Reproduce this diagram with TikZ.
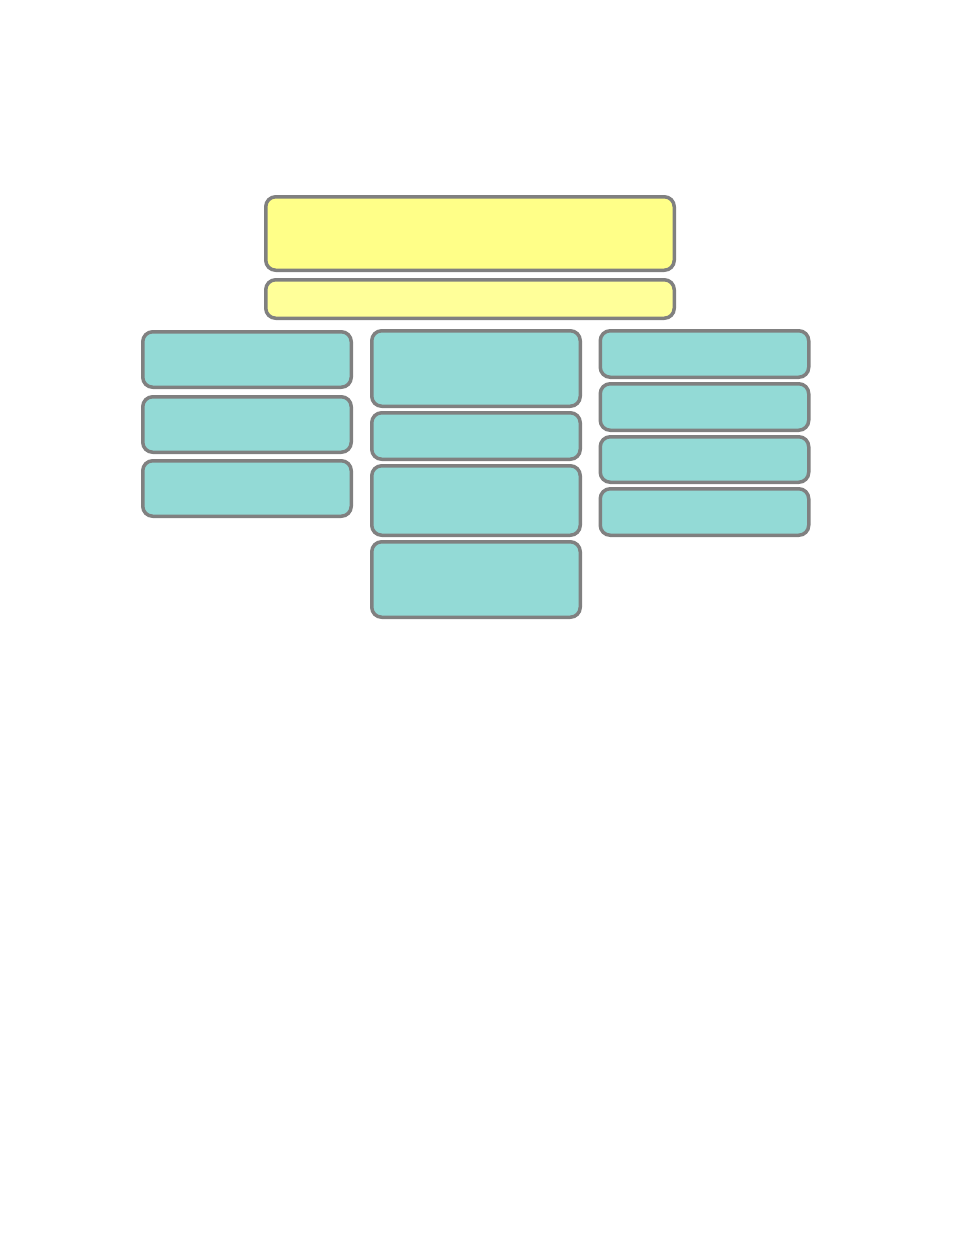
\documentclass[tikz,border=0pt]{standalone}
\usepackage{tikz}
\usepackage{xcolor}
\usetikzlibrary{positioning}
\definecolor{framegray}{HTML}{808080}
\definecolor{titleyellow}{HTML}{FFFF88}
\definecolor{subyellow}{HTML}{FFFF99}
\definecolor{cellteal}{HTML}{93DAD6}

\begin{document}
\begin{tikzpicture}[x=1pt,y=-1pt,
  panel/.style={draw=framegray, line width=3.5pt, rounded corners=10pt, inner sep=0pt},
  head/.style={panel, fill=titleyellow, minimum width=408.5pt},
  cell/.style={panel, fill=cellteal, minimum width=208.5pt}]
  \useasboundingbox (0,0) rectangle (954,1235);

  % header
  \node[head, minimum height=73.5pt] (title) at (470,233.5) {};
  \node[head, fill=subyellow, minimum height=38.5pt] (subtitle) at (470,299) {};

  % left column
  \node[cell, minimum height=55.5pt] (left1) at (247,359.5) {};
  \node[cell, minimum height=55.5pt] (left2) at (247,424.5) {};
  \node[cell, minimum height=55.5pt] (left3) at (247,488.5) {};

  % middle column
  \node[cell, minimum height=75.5pt] (mid1) at (476,368.5) {};
  \node[cell, minimum height=46.5pt] (mid2) at (476,436) {};
  \node[cell, minimum height=69.5pt] (mid3) at (476,500.5) {};
  \node[cell, minimum height=75.5pt] (mid4) at (476,579.5) {};

  % right column
  \node[cell, minimum height=46.5pt] (right1) at (704.5,354) {};
  \node[cell, minimum height=46.5pt] (right2) at (704.5,407) {};
  \node[cell, minimum height=45.5pt] (right3) at (704.5,459.5) {};
  \node[cell, minimum height=46.5pt] (right4) at (704.5,512) {};
\end{tikzpicture}
\end{document}
